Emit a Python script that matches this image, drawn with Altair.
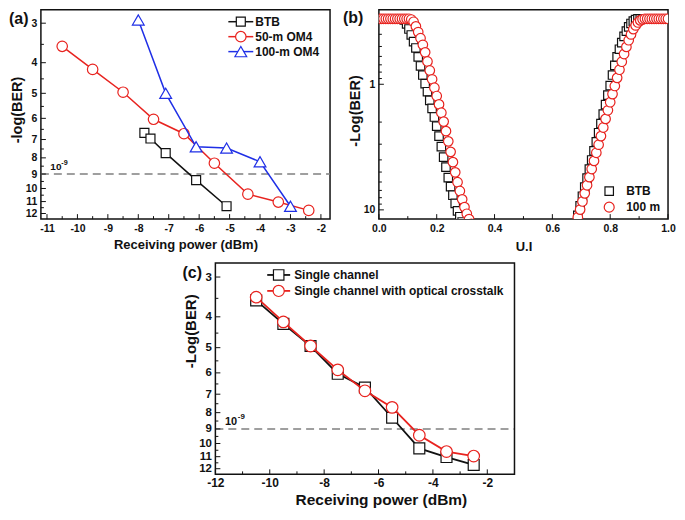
import altair as alt
import pandas as pd

FONT = "Liberation Sans"
BLACK = "#111111"
RED = "#e8231f"
BLUE = "#1f2fe6"
GRAY = "#808080"

# ---------------- panel (a) data ----------------
A_BTB_X = [-7.8, -7.6, -7.1, -6.1, -5.1]
A_BTB_Y = [6.67, 6.95, 7.73, 9.41, 11.38]
A_OM50_X = [-10.5, -9.5, -8.5, -7.5, -6.5, -5.5, -4.4, -3.4, -2.4]
A_OM50_Y = [3.55, 4.20, 4.96, 6.04, 6.71, 8.32, 10.42, 11.04, 11.73]
A_OM100_X = [-8.0, -7.1, -6.1, -5.1, -4.0, -3.0]
A_OM100_Y = [2.93, 5.00, 7.38, 7.45, 8.23, 11.38]
A_LEGEND = ["BTB", "50-m OM4", "100-m OM4"]
A_XTICKS = [-11, -10, -9, -8, -7, -6, -5, -4, -3, -2]
A_XMINOR = [-10.5, -9.5, -8.5, -7.5, -6.5, -5.5, -4.5, -3.5, -2.5]
Y_BER_TICKS = [3, 4, 5, 6, 7, 8, 9, 10, 11, 12]
Y_BER_MINOR = [3.5, 4.5, 5.5, 6.5, 7.5, 8.5, 9.5, 10.5, 11.5]
THRESHOLD = 9

# ---------------- panel (b) data ----------------
B_UI_LEFT = [0.000, 0.008, 0.016, 0.024, 0.032, 0.040, 0.048, 0.056, 0.064, 0.072,
             0.080, 0.088, 0.096, 0.104, 0.112, 0.120, 0.128, 0.136, 0.144, 0.152,
             0.160, 0.168, 0.176, 0.184, 0.192, 0.200, 0.208, 0.216, 0.224, 0.232,
             0.240, 0.248, 0.256, 0.264, 0.272, 0.280, 0.288, 0.296, 0.304, 0.312,
             0.320]
B_UI_RIGHT = [0.680, 0.688, 0.696, 0.704, 0.712, 0.720, 0.728, 0.736, 0.744, 0.752,
              0.760, 0.768, 0.776, 0.784, 0.792, 0.800, 0.808, 0.816, 0.824, 0.832,
              0.840, 0.848, 0.856, 0.864, 0.872, 0.880, 0.888, 0.896, 0.904, 0.912,
              0.920, 0.928, 0.936, 0.944, 0.952, 0.960, 0.968, 0.976, 0.984, 0.992,
              1.000]
B_BTB_LEFT = [0.301, 0.301, 0.301, 0.301, 0.301, 0.301, 0.301, 0.301, 0.301, 0.301,
              0.301, 0.307, 0.331, 0.363, 0.405, 0.457, 0.514, 0.605, 0.715, 0.844,
              0.988, 1.146, 1.342, 1.557, 1.822, 2.152, 2.586, 3.135, 3.800, 4.566,
              5.536, 6.537, 7.650, 8.878, 10.18, 11.34, 12.49]
B_100_LEFT = [0.301, 0.301, 0.301, 0.301, 0.301, 0.301, 0.301, 0.301, 0.301, 0.301,
              0.301, 0.301, 0.301, 0.301, 0.305, 0.318, 0.346, 0.384, 0.430, 0.485,
              0.557, 0.658, 0.776, 0.913, 1.065, 1.240, 1.446, 1.684, 1.982, 2.361,
              2.847, 3.451, 4.170, 5.029, 6.021, 7.07, 8.25, 9.51, 10.74, 11.85,
              12.93]
B_BTB_RIGHT = [12.93, 11.05, 9.276, 7.786, 6.595, 5.585, 4.729, 4.005, 3.392, 2.872,
               2.432, 2.060, 1.729, 1.451, 1.219, 1.023, 0.844, 0.708, 0.605, 0.526,
               0.466, 0.415, 0.377, 0.349, 0.328, 0.314, 0.306, 0.301, 0.301, 0.301,
               0.301, 0.301, 0.301, 0.301, 0.301, 0.301, 0.301, 0.301, 0.301, 0.301,
               0.301]
B_100_RIGHT = [13.16, 11.44, 9.948, 8.575, 7.388, 6.368, 5.488, 4.729, 4.075, 3.512,
               3.027, 2.586, 2.209, 1.887, 1.612, 1.390, 1.197, 1.032, 0.889, 0.766,
               0.661, 0.574, 0.504, 0.446, 0.401, 0.364, 0.340, 0.322, 0.310, 0.304,
               0.301, 0.301, 0.301, 0.301, 0.301, 0.301, 0.301, 0.301, 0.301, 0.301,
               0.301]
B_LEGEND = ["BTB", "100 m"]
B_XTICKS = [0.0, 0.2, 0.4, 0.6, 0.8, 1.0]
B_XMINOR = [0.1, 0.3, 0.5, 0.7, 0.9]
B_YTICKS = [1, 10]
B_YMINOR = [0.3, 0.4, 0.5, 0.6, 0.7, 0.8, 0.9, 2, 3, 4, 5, 6, 7, 8, 9]

# ---------------- panel (c) data ----------------
C_X = [-10.5, -9.5, -8.5, -7.5, -6.5, -5.5, -4.5, -3.5, -2.5]
C_SINGLE_Y = [3.55, 4.21, 4.94, 6.04, 6.67, 8.30, 10.36, 11.03, 11.68]
C_XTALK_Y = [3.47, 4.15, 4.94, 5.87, 6.83, 7.70, 9.42, 10.60, 10.95]
C_LEGEND = ["Single channel", "Single channel with optical crosstalk"]
C_XTICKS = [-12, -10, -8, -6, -4, -2]
C_XMINOR = [-11, -9, -7, -5, -3]


# ---------------- helpers ----------------
def axis_kw(lsize, tsize, lpad, tpad):
    return dict(ticks=False, tickSize=0, domain=False, grid=False, labelFlush=False,
                labelOverlap=False, labelPadding=lpad, labelFont=FONT, labelFontSize=lsize,
                labelFontWeight="bold", labelColor=BLACK, titleFont=FONT, titleFontSize=tsize,
                titleFontWeight="bold", titleColor=BLACK, titlePadding=tpad)


class Panel:
    """One framed plot; ox shifts the plot box to the right inside its view."""

    def __init__(self, xscale, yscale, xaxis, yaxis, W, H, ox=0, view_w=None):
        self.ex = alt.X("x:Q", scale=xscale, axis=xaxis)
        self.ey = alt.Y("y:Q", scale=yscale, axis=yaxis)
        self.W, self.H, self.ox = W, H, ox
        self.view_w = view_w if view_w else W
        self.layers = []

    def ticks_x(self, values, length):
        self.layers.append(alt.Chart(pd.DataFrame({"x": values})).mark_rule(
            color=BLACK, strokeWidth=1).encode(
            x=self.ex, y=alt.value(self.H), y2=alt.value(self.H - length)))

    def ticks_y(self, values, length):
        self.layers.append(alt.Chart(pd.DataFrame({"y": values})).mark_rule(
            color=BLACK, strokeWidth=1).encode(
            y=self.ey, x=alt.value(self.ox), x2=alt.value(self.ox + length)))

    def series(self, xv, yv, color, shape, size, line_w=None, clip=False):
        df = pd.DataFrame({"x": xv, "y": yv})
        if line_w:
            self.layers.append(alt.Chart(df).mark_line(color=color, strokeWidth=line_w,
                                                       clip=clip).encode(x=self.ex, y=self.ey))
        self.layers.append(alt.Chart(df).mark_point(
            shape=shape, size=size, fill="white", fillOpacity=1, stroke=color,
            strokeWidth=1.2, opacity=1, clip=clip).encode(x=self.ex, y=self.ey))

    def threshold(self, x_anchor, fsize, sup_dx, sup_dy):
        self.layers.append(alt.Chart(pd.DataFrame({"y": [THRESHOLD]})).mark_rule(
            color=GRAY, strokeWidth=1.5, strokeDash=[8, 5]).encode(
            y=self.ey, x=alt.value(self.ox), x2=alt.value(self.ox + self.W)))
        df = pd.DataFrame({"x": [x_anchor], "y": [THRESHOLD], "t": ["10"], "s": ["-9"]})
        self.layers.append(alt.Chart(df).mark_text(
            align="left", baseline="bottom", dy=-2, font=FONT, fontSize=fsize,
            fontWeight="bold", color=BLACK).encode(x=self.ex, y=self.ey, text="t:N"))
        self.layers.append(alt.Chart(df).mark_text(
            align="left", baseline="bottom", dx=sup_dx, dy=sup_dy, font=FONT,
            fontSize=fsize * 0.72, fontWeight="bold", color=BLACK).encode(
            x=self.ex, y=self.ey, text="s:N"))

    def legend_row(self, label, color, shape, size, y, x_mark, x_text, fsize,
                   x_line=None, line_w=1.5):
        o = self.ox
        base = alt.Chart(pd.DataFrame({"t": [label]}))
        if x_line:
            self.layers.append(base.mark_rule(color=color, strokeWidth=line_w).encode(
                x=alt.value(o + x_line[0]), x2=alt.value(o + x_line[1]), y=alt.value(y)))
        self.layers.append(base.mark_point(
            shape=shape, size=size, fill="white", fillOpacity=1, stroke=color,
            strokeWidth=1.2, opacity=1).encode(x=alt.value(o + x_mark), y=alt.value(y)))
        self.layers.append(base.mark_text(
            align="left", baseline="middle", font=FONT, fontSize=fsize, fontWeight="bold",
            color=BLACK).encode(x=alt.value(o + x_text), y=alt.value(y), text="t:N"))

    def label(self, text, x, y):
        self.layers.append(alt.Chart(pd.DataFrame({"t": [text]})).mark_text(
            align="left", baseline="middle", font=FONT, fontSize=16, fontWeight="bold",
            color=BLACK).encode(x=alt.value(self.ox + x), y=alt.value(y), text="t:N"))

    def frame(self):
        self.layers.append(alt.Chart(pd.DataFrame({"t": [""]})).mark_rect(
            fillOpacity=0, stroke=BLACK, strokeWidth=1.5).encode(
            x=alt.value(self.ox), x2=alt.value(self.ox + self.W),
            y=alt.value(0), y2=alt.value(self.H)))

    def chart(self, own_frame=False):
        props = dict(width=self.view_w, height=self.H)
        if own_frame:
            props["view"] = alt.ViewBackground(stroke="transparent")
        return alt.layer(*self.layers).properties(**props)


# ---------------- panel (a) ----------------
W_A, H_T = 290, 210
pa = Panel(alt.Scale(domain=[-11.2, -1.7], nice=False, zero=False),
           alt.Scale(type="log", domain=[2.72, 12.5], reverse=True, nice=False),
           alt.Axis(values=A_XTICKS, labelExpr="'' + datum.value", title="Receiving power (dBm)",
                    **axis_kw(10.5, 13, 4, 5)),
           alt.Axis(values=Y_BER_TICKS, format="d", title="-log(BER)", titleY=100,
                    **axis_kw(10.5, 14.5, 4, 1)),
           W_A, H_T)
pa.threshold(-10.89, 10, 11, -7)
pa.ticks_x(A_XTICKS, 5)
pa.ticks_x(A_XMINOR, 3)
pa.ticks_y(Y_BER_TICKS, 5)
pa.ticks_y(Y_BER_MINOR, 3)
pa.series(A_BTB_X, A_BTB_Y, BLACK, "square", 81, line_w=1.5)
pa.series(A_OM50_X, A_OM50_Y, RED, "circle", 110, line_w=1.5)
pa.series(A_OM100_X, A_OM100_Y, BLUE, "triangle-up", 140, line_w=1.5)
for lab, col, shp, sz, yy in zip(A_LEGEND, [BLACK, RED, BLUE], ["square", "circle", "triangle-up"],
                                 [81, 110, 140], [12, 27, 42]):
    pa.legend_row(lab, col, shp, sz, yy, W_A - 89.5, W_A - 75, 12, x_line=(W_A - 102, W_A - 77))
pa.label("(a)", -32, 9)
A = pa.chart()

# ---------------- panel (b) ----------------
W_B = 290
pb = Panel(alt.Scale(domain=[0, 1], nice=False, zero=False),
           alt.Scale(type="log", domain=[0.255, 11.85], reverse=True, nice=False),
           alt.Axis(values=B_XTICKS, labelExpr="format(datum.value, '.1f')", title="U.I",
                    **axis_kw(10.5, 13, 4, 7)),
           alt.Axis(values=B_YTICKS, format="d", title="-Log(BER)", titleY=101,
                    **axis_kw(10.5, 14.5, 4, 1)),
           W_B, H_T)
pb.ticks_x(B_XTICKS, 5)
pb.ticks_x(B_XMINOR, 3)
pb.ticks_y(B_YTICKS, 5)
pb.ticks_y(B_YMINOR, 3)
pb.series(B_UI_LEFT[:len(B_BTB_LEFT)] + B_UI_RIGHT, B_BTB_LEFT + B_BTB_RIGHT,
          BLACK, "square", 72, clip=True)
pb.series(B_UI_LEFT + B_UI_RIGHT, B_100_LEFT + B_100_RIGHT, RED, "circle", 92, clip=True)
for lab, col, shp, sz, yy in zip(B_LEGEND, [BLACK, RED], ["square", "circle"], [72, 100],
                                 [H_T - 28, H_T - 12]):
    pb.legend_row(lab, col, shp, sz, yy, W_B - 59, W_B - 42, 12)
pb.label("(b)", -36, 8)
B = pb.chart()

# ---------------- panel (c) ----------------
OX_C, W_C, H_C = 175, 300, 212
pc = Panel(alt.Scale(domain=[-12, -1], range=[OX_C, OX_C + W_C], nice=False, zero=False),
           alt.Scale(type="log", domain=[2.71, 12.5], reverse=True, nice=False),
           alt.Axis(values=C_XTICKS, labelExpr="'' + datum.value", title="Receiving power (dBm)",
                    titleX=OX_C + 166, **axis_kw(12, 15.5, 3, 4)),
           alt.Axis(values=Y_BER_TICKS, format="d", title="-Log(BER)", titleY=68, offset=-OX_C,
                    **axis_kw(11.5, 15, 4, 0)),
           W_C, H_C, ox=OX_C, view_w=W_A)
pc.threshold(-11.65, 11, 13, -8)
pc.ticks_x(C_XTICKS, 5)
pc.ticks_x(C_XMINOR, 3)
pc.ticks_y(Y_BER_TICKS, 5)
pc.ticks_y(Y_BER_MINOR, 3)
pc.series(C_X, C_SINGLE_Y, BLACK, "square", 120, line_w=1.8)
pc.series(C_X, C_XTALK_Y, RED, "circle", 135, line_w=1.8)
for lab, col, shp, sz, yy in zip(C_LEGEND, [BLACK, RED], ["square", "circle"], [110, 125], [12, 28]):
    pc.legend_row(lab, col, shp, sz, yy, 63.5, 79, 12, x_line=(52, 75), line_w=1.8)
pc.label("(c)", -33, 10)
pc.frame()
C = pc.chart(own_frame=True)

chart = alt.concat(A, B, C, columns=2, spacing={"row": 44, "column": 49},
                   bounds="flush").configure_view(
    stroke=BLACK, strokeWidth=1.5).properties(padding=0, background="white")

chart.save("out.html", embed_options={"renderer": "svg", "actions": False})
